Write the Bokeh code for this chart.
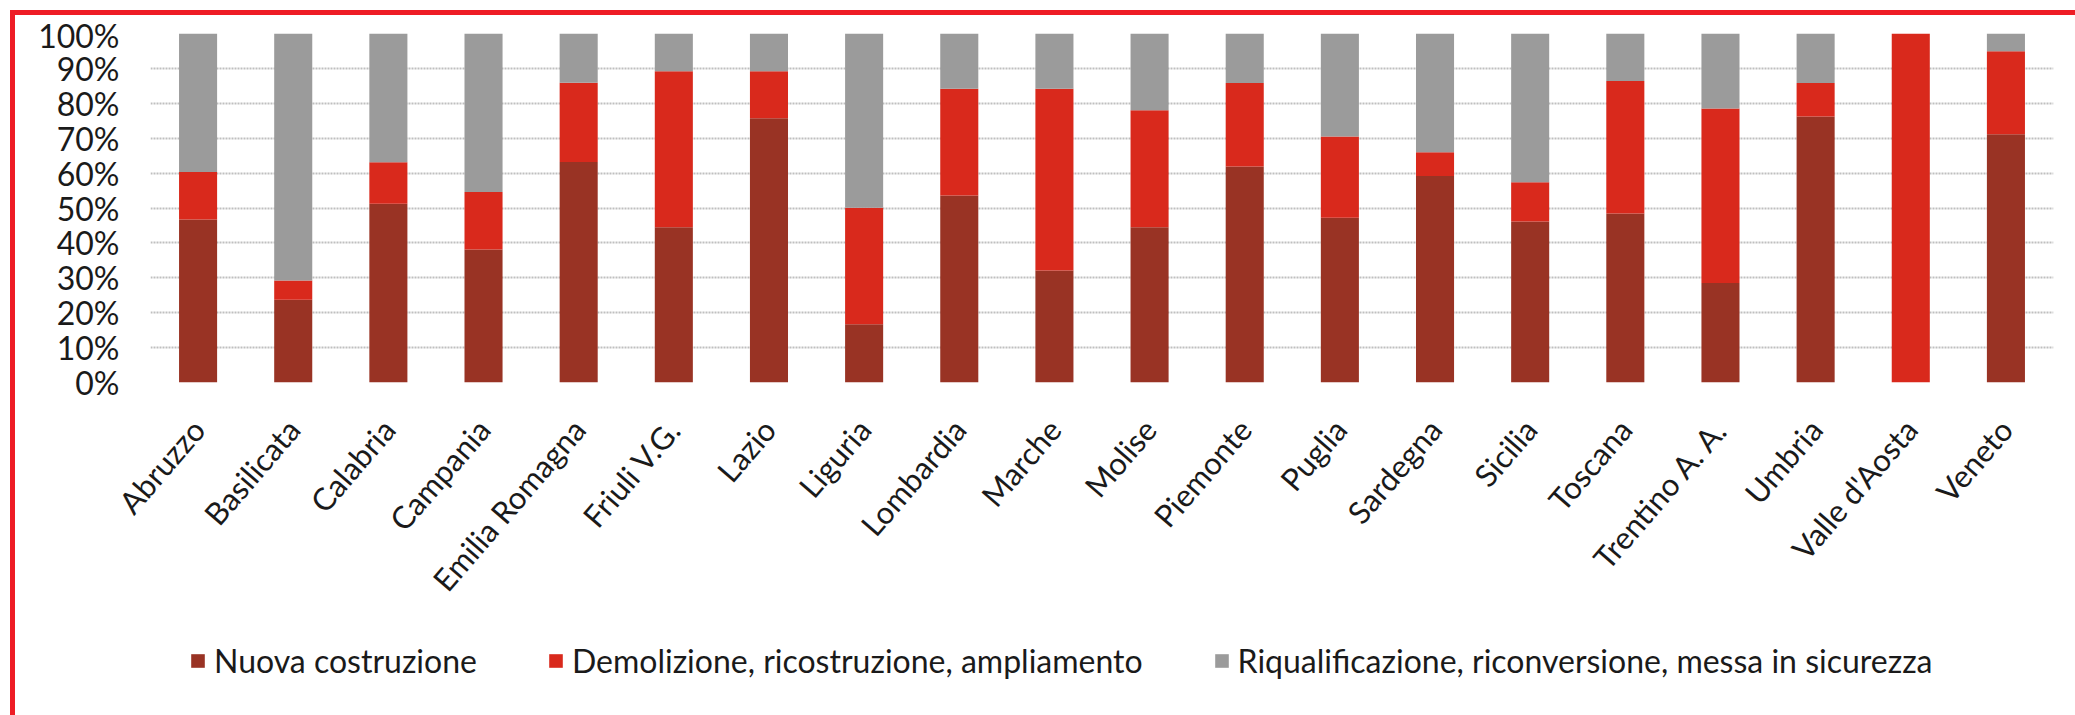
from bokeh.plotting import figure
from bokeh.layouts import column
from bokeh.models import (FactorRange, Range1d, FixedTicker, PrintfTickFormatter,
                          Legend, LegendItem)
from bokeh.embed import file_html
from bokeh.resources import INLINE

categories = ["Abruzzo", "Basilicata", "Calabria", "Campania", "Emilia Romagna",
              "Friuli V.G.", "Lazio", "Liguria", "Lombardia", "Marche", "Molise",
              "Piemonte", "Puglia", "Sardegna", "Sicilia", "Toscana",
              "Trentino A. A.", "Umbria", "Valle d'Aosta", "Veneto"]
nuova = [46.7, 23.7, 51.2, 38.1, 63.2, 44.5, 75.7, 16.7, 53.6, 32.1, 44.5,
         61.9, 47.2, 59.2, 46.1, 48.4, 28.5, 76.2, 0.0, 71.1]
demolizione = [13.6, 5.5, 11.9, 16.5, 22.7, 44.7, 13.5, 33.4, 30.6, 52.1, 33.5,
               23.9, 23.3, 6.8, 11.3, 38.0, 50.0, 9.6, 100.0, 23.8]
riqualificazione = [39.7, 70.8, 36.9, 45.4, 14.1, 10.8, 10.8, 49.9, 15.8, 15.8, 22.0,
                    14.2, 29.5, 34.0, 42.6, 13.6, 21.5, 14.2, 0.0, 5.1]
series_names = ["Nuova costruzione",
                "Demolizione, ricostruzione, ampliamento",
                "Riqualificazione, riconversione, messa in sicurezza"]
y_ticks = list(range(0, 101, 10))

colors = ["#993324", "#d9291c", "#9b9b9b"]
FONT = "Lato"

data = {"cat": categories, "n": nuova, "d": demolizione, "r": riqualificazione}

# ---------------- main chart ----------------
p = figure(x_range=FactorRange(*categories, range_padding=0),
           y_range=Range1d(0, 100),
           width=2060, height=620,
           min_border_left=135, min_border_right=22, min_border_top=18,
           min_border_bottom=253,
           output_backend="svg", toolbar_location=None,
           background_fill_color="white", border_fill_color="white")
p.outline_line_color = None

p.vbar_stack(["n", "d", "r"], x="cat", width=0.4, color=colors,
             line_color=None, source=data)

p.xgrid.grid_line_color = None
p.ygrid.grid_line_color = "#bfbfbf"
p.ygrid.grid_line_width = 2
p.ygrid.grid_line_dash = "2 1"
p.ygrid.level = "underlay"

p.yaxis.ticker = FixedTicker(ticks=y_ticks)
p.yaxis.formatter = PrintfTickFormatter(format="%d%%")
p.yaxis.axis_line_color = None
p.yaxis.major_tick_line_color = None
p.yaxis.minor_tick_line_color = None
p.yaxis.major_label_standoff = 25
p.yaxis.major_label_text_font = FONT
p.yaxis.major_label_text_font_size = "32px"
p.yaxis.major_label_text_color = "#1a1a1a"

p.xaxis.axis_line_color = None
p.xaxis.major_tick_line_color = None
p.xaxis.major_label_orientation = 0.86
p.xaxis.major_label_standoff = 35
p.xaxis.major_label_text_font = FONT
p.xaxis.major_label_text_font_size = "31px"
p.xaxis.major_label_text_color = "#1a1a1a"

# ---------------- legend strip ----------------
pl = figure(x_range=Range1d(0, 1), y_range=Range1d(0, 1),
            width=2060, height=80, min_border=0,
            x_axis_type=None, y_axis_type=None,
            output_backend="svg", toolbar_location=None,
            background_fill_color="white", border_fill_color="white")
pl.outline_line_color = None
pl.grid.visible = False
# zero-size helper glyphs: they only supply the legend swatches
legend_renderers = [pl.vbar(x=[0.5], top=[0], bottom=[0], width=0, color=c,
                            line_color=None)
                    for c in colors]
legend = Legend(items=[LegendItem(label=name, renderers=[r])
                       for name, r in zip(series_names, legend_renderers)],
                orientation="horizontal", location=(39, 35),
                glyph_width=17, glyph_height=17, label_standoff=8, spacing=70,
                padding=0, margin=0, border_line_color=None,
                background_fill_alpha=0,
                label_text_font=FONT, label_text_font_size="32px",
                label_text_color="#1a1a1a", label_height=32)
pl.add_layout(legend, "center")

layout = column(p, pl, spacing=0,
                styles={"border-left": "5px solid #ee1c25",
                        "border-top": "5px solid #ee1c25",
                        "margin-left": "10px", "margin-top": "10px"})

open("out.html", "w").write(file_html(layout, INLINE))
